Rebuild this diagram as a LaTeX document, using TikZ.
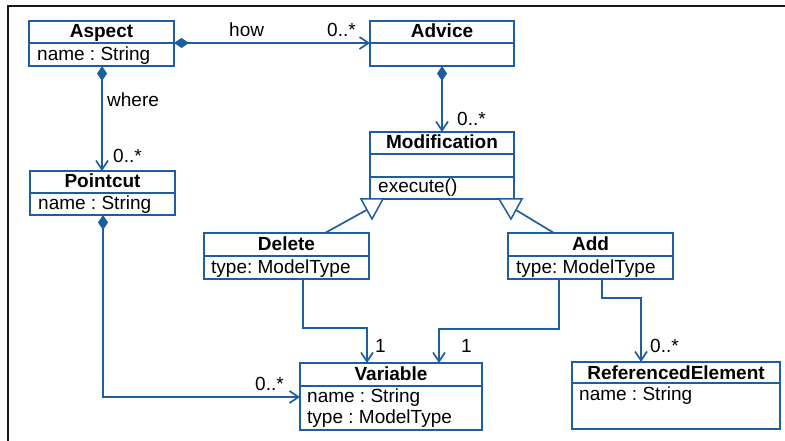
\documentclass[tikz,border=0pt]{standalone}
\usepackage{fontspec}
\setmainfont{Liberation Sans}
\usetikzlibrary{arrows.meta,calc}
\definecolor{umlblue}{RGB}{28,94,160}
\frenchspacing
\tikzset{
  cls/.style={draw=umlblue, line width=1.5pt, rectangle, inner sep=0pt, outer sep=0pt, anchor=north west},
  umlline/.style={draw=umlblue, line width=1.5pt},
  conn/.style={draw=umlblue, line width=1.7pt},
  title/.style={font=\fontsize{19}{22}\selectfont\bfseries, anchor=base, inner sep=0pt},
  attr/.style={font=\fontsize{19}{22}\selectfont, anchor=base west, inner sep=0pt},
  lbl/.style={font=\fontsize{19}{22}\selectfont, anchor=base west, inner sep=0pt},
  comp/.style={conn, arrows={Diamond[length=15pt,width=10pt]-Straight Barb[length=9pt,width=12pt]}},
  assoc/.style={conn, arrows={-Straight Barb[length=9pt,width=12pt]}},
  gen/.style={umlline, fill=white, line join=miter}
}
\begin{document}
\begin{tikzpicture}[x=1pt,y=-1pt]
\useasboundingbox (0,0) rectangle (785,441);
% frame
\draw[black!90, line width=1.8pt] (8,445) -- (8,6) -- (790,6);

% classes
\node[cls, minimum width=145, minimum height=45] (aspect) at (29,21) {};
\node[cls, minimum width=144, minimum height=45] (advice) at (370,21) {};
\node[cls, minimum width=144, minimum height=67] (modif) at (370,132) {};
\node[cls, minimum width=145, minimum height=44] (pointcut) at (30,171) {};
\node[cls, minimum width=165, minimum height=46] (delete) at (204,233) {};
\node[cls, minimum width=165, minimum height=46] (add) at (508,233) {};
\node[cls, minimum width=182, minimum height=67] (variable) at (300,363) {};
\node[cls, minimum width=208, minimum height=67] (refel) at (572,362) {};

% compartments
\draw[umlline] ([yshift=-22pt]aspect.north west) -- ([yshift=-22pt]aspect.north east);
\draw[umlline] ([yshift=-22pt]advice.north west) -- ([yshift=-22pt]advice.north east);
\draw[umlline] ([yshift=-22pt]modif.north west) -- ([yshift=-22pt]modif.north east);
\draw[umlline] ([yshift=-45pt]modif.north west) -- ([yshift=-45pt]modif.north east);
\draw[umlline] ([yshift=-22pt]pointcut.north west) -- ([yshift=-22pt]pointcut.north east);
\draw[umlline] ([yshift=-23pt]delete.north west) -- ([yshift=-23pt]delete.north east);
\draw[umlline] ([yshift=-23pt]add.north west) -- ([yshift=-23pt]add.north east);
\draw[umlline] ([yshift=-23pt]variable.north west) -- ([yshift=-23pt]variable.north east);
\draw[umlline] ([yshift=-21pt]refel.north west) -- ([yshift=-21pt]refel.north east);

% texts
\node[title] (aspectT) at (101.5,37.5) {Aspect};
\node[attr] (aspectA) at (37,60.5) {name : String};
\node[title] (adviceT) at (442,37.5) {Advice};
\node[title] (modifT) at (442,148.5) {Modification};
\node[attr] (modifO) at (378,193) {execute()};
\node[title] (pointcutT) at (102.5,187.5) {Pointcut};
\node[attr] (pointcutA) at (38,210) {name : String};
\node[title] (deleteT) at (286.5,250) {Delete};
\node[attr] (deleteA) at (211,273) {type: ModelType};
\node[title] (addT) at (590.5,250) {Add};
\node[attr] (addA) at (516,273) {type: ModelType};
\node[title] (variableT) at (391,380) {Variable};
\node[attr] (variableA) at (307,402) {name : String};
\node[attr] (variableB) at (307,423.5) {type : ModelType};
\node[title] (refelT) at (676,379) {ReferencedElement};
\node[attr] (refelA) at (579,400) {name : String};

% associations
\draw[comp] ([yshift=0.5pt]aspect.east) -- ([yshift=0.5pt]advice.west);
\node[lbl] (how) at (229,37) {how};
\node[lbl] (m1) at (327,37) {0..*};

\draw[comp] ([xshift=0.5pt]aspect.south) -- ([xshift=0.5pt]aspect.south |- pointcut.north);
\node[lbl] (where) at (107,107) {where};
\node[lbl] (m2) at (113,163) {0..*};

\draw[comp] (advice.south) -- (modif.north);
\node[lbl] (m3) at (457,126) {0..*};

\draw[comp] ([xshift=0.5pt]pointcut.south) |- ([yshift=-0.5pt]variable.west);
\node[lbl] (m4) at (255,390) {0..*};

\draw[assoc] ($(delete.south west)+(99,0)$) -- ++(0,49) -| ($(variable.north west)+(67,0)$);
\node[lbl] (m5) at (375,352) {1};

\draw[assoc] ($(add.south west)+(51,0)$) -- ++(0,50) -| ($(variable.north west)+(139,0)$);
\node[lbl] (m6) at (461,352) {1};

\draw[assoc] ($(add.south west)+(94,0)$) -- ++(0,19) -| ($(refel.north west)+(69,0)$);
\node[lbl] (m7) at (650,352) {0..*};

% generalizations
\coordinate (gl) at (372,207);
\coordinate (gr) at (511,207);
\draw[conn] ($(delete.north west)+(121,0)$) -- (gl);
\draw[conn] ($(add.north west)+(46,0)$) -- (gr);
\draw[gen] ($(modif.south west)+(-9,0)$) -- ($(modif.south west)+(2,20)$) -- ($(modif.south west)+(13,0)$) -- cycle;
\draw[gen] ($(modif.south east)+(-15,0)$) -- ($(modif.south east)+(-3,20)$) -- ($(modif.south east)+(8,0)$) -- cycle;
\end{tikzpicture}
\end{document}
